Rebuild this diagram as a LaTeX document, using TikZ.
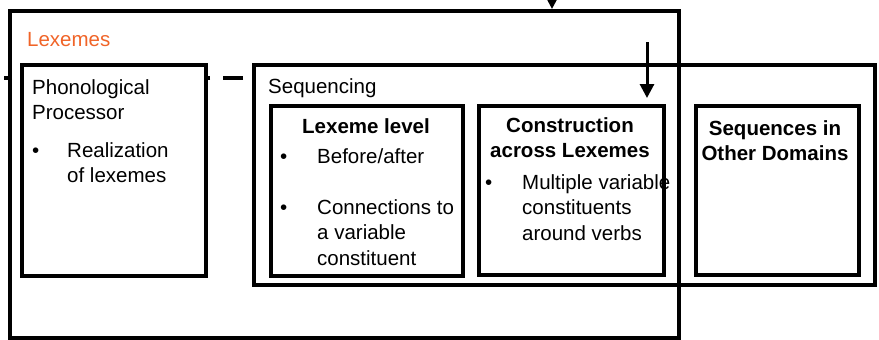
\documentclass[tikz,border=0pt]{standalone}
\usepackage{fontspec}
\setmainfont{Liberation Sans}
\usetikzlibrary{arrows.meta}
\definecolor{lexorange}{RGB}{240,100,40}
\tikzset{
  frame/.style={draw, line width=4pt, anchor=north west, inner sep=0pt},
  box/.style={draw, line width=3.5pt, anchor=north west, inner sep=0pt},
  txt/.style={anchor=base west, inner sep=0pt, align=left, font=\fontsize{20.5}{25.5}\selectfont},
  head/.style={anchor=base, inner sep=0pt, align=center, font=\bfseries\fontsize{20.5}{25.5}\selectfont},
  arr/.style={line width=3pt, -{Triangle[length=14pt,width=14pt]}},
}
\begin{document}
\begin{tikzpicture}[x=1pt, y=-1pt]
\useasboundingbox (0,0) rectangle (879,340);
% outer frames
\node[frame, minimum width=669pt, minimum height=327pt] (lex) at (8,9) {};
\node[frame, minimum width=621pt, minimum height=220pt] (seq) at (252,63) {};
% dashed link between processor and sequencing
\coordinate (dl) at (4,78);
\draw[line width=4pt, dash pattern=on 20pt off 13pt, dash phase=24pt] (dl -| seq.west) -- (dl);
\node[frame, fill=white, minimum width=184pt, minimum height=211pt] (phon) at (20,63) {};
% inner boxes
\node[box, minimum width=192pt, minimum height=170pt] (lexlev) at (269,104) {};
\node[box, minimum width=185pt, minimum height=169pt] (constr) at (477,104) {};
\node[box, minimum width=163pt, minimum height=169pt] (other) at (694,104) {};
% arrows
\coordinate (topin) at (552,-20);
\draw[arr] (topin) -- (topin |- lex.north);
\coordinate (arrtop) at (647,42);
\draw[arr, shorten >=6pt] (arrtop) -- (arrtop |- constr.north);
% labels (multi-line nodes sit on their last baseline)
\node[txt, text=lexorange] (lexlbl) at (27,46) {Lexemes};
\node[txt] (phonlbl) at (32,119.5) {Phonological\\Processor};
\node[txt] (phonb) at (32,157) {\textbullet};
\node[txt] (phonit) at (67,182.5) {Realization\\of lexemes};
\node[txt] (seqlbl) at (268,93) {Sequencing};
\node[head] (lexhd) at (366,133) {Lexeme level};
\node[txt] (lexb1) at (280,163) {\textbullet};
\node[txt] (lexit1) at (317,163) {Before/after};
\node[txt] (lexb2) at (280,214) {\textbullet};
\node[txt] (lexit2) at (317,265) {Connections to\\a variable\\constituent};
\node[head] (conhd) at (570,157.5) {Construction\\across Lexemes};
\node[txt] (conb) at (485,189) {\textbullet};
\node[txt] (conit) at (522,240) {Multiple variable\\constituents\\around verbs};
\node[head] (othhd) at (775,160.5) {Sequences in\\Other Domains};
\end{tikzpicture}
\end{document}
